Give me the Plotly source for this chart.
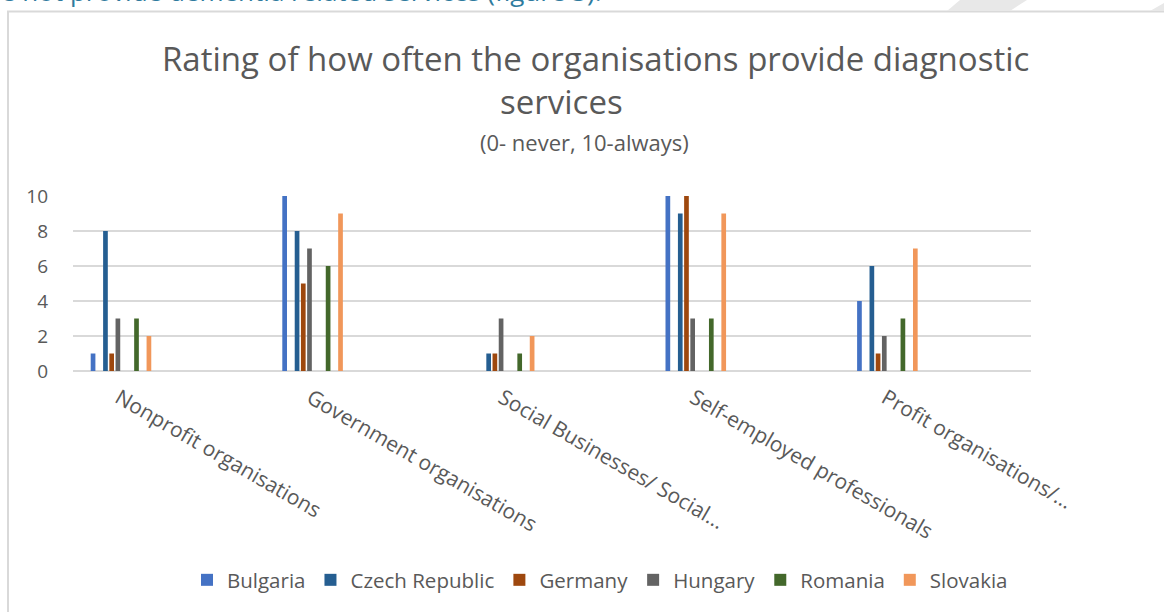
import plotly.graph_objects as go

# Organisation types (x categories) and countries (series)
categories = [
    "Nonprofit organisations",
    "Government organisations",
    "Social Businesses/ Social...",
    "Self-employed professionals",
    "Profit organisations/...",
]
countries = ["Bulgaria", "Czech Republic", "Germany", "Hungary", "Romania", "Slovakia"]

bulgaria = [1, 10, 0, 10, 4]
czech_republic = [8, 8, 1, 9, 6]
germany = [1, 5, 1, 10, 1]
hungary = [3, 7, 3, 3, 2]
romania = [3, 6, 1, 3, 3]
slovakia = [2, 9, 2, 9, 7]

y_ticks = [0, 2, 4, 6, 8, 10]

series_values = [bulgaria, czech_republic, germany, hungary, romania, slovakia]

# Styling: colour and slot within the category band for each series
colors = ["#4472C4", "#255E91", "#9E480E", "#636363", "#43682B", "#F1975A"]
slots = [0, 2, 3, 4, 7, 9]
SLOT_STEP = 0.0324
FIRST_OFFSET = -0.4076
BAR_WIDTH = 0.0245

TEXT = "#595959"
GRID = "#D9D9D9"
FONT = "Open Sans"

fig = go.Figure()
for name, vals, col, slot in zip(countries, series_values, colors, slots):
    fig.add_trace(go.Bar(
        name=name,
        x=categories,
        y=vals,
        marker=dict(color=col, line=dict(width=0)),
        width=BAR_WIDTH,
        offset=FIRST_OFFSET + slot * SLOT_STEP,
    ))

# plot area geometry in pixels (for paper-referenced decorations)
L, R, T, B = 73, 133, 196, 241
W, H = 1164, 612
PW, PH = W - L - R, H - T - B


def px(x):
    return (x - L) / PW


def py(y):
    return (H - B - y) / PH


shapes = [
    # chart frame
    dict(type="rect", xref="paper", yref="paper",
         x0=px(8), x1=px(1190), y0=py(11.5), y1=py(640),
         line=dict(color=GRID, width=2), fillcolor="rgba(0,0,0,0)", layer="below"),
    # page decoration at the top right
    dict(type="path", xref="paper", yref="paper",
         path=f"M{px(947)},{py(11)} L{px(960)},{py(0)} L{px(1027)},{py(0)} L{px(1010)},{py(11)} Z",
         fillcolor="#E8E8E8", line=dict(width=0)),
    dict(type="path", xref="paper", yref="paper",
         path=f"M{px(1150)},{py(11)} L{px(1164)},{py(3)} L{px(1164)},{py(11)} Z",
         fillcolor="#E8E8E8", line=dict(width=0)),
]

title_text = ("Rating of how often the organisations provide diagnostic<br>"
              "services" + "\u00a0" * 8)

annotations = [
    dict(text="e not provide dementia related services (figure 3).",
         xref="paper", yref="paper", x=px(-1), y=py(11), xanchor="left", yanchor="bottom",
         showarrow=False, font=dict(family=FONT, size=26, color="#2F7B9E")),
    dict(text=title_text,
         xref="paper", yref="paper", x=px(595), y=py(80), xanchor="center", yanchor="middle",
         align="center", showarrow=False, font=dict(family=FONT, size=33, color=TEXT)),
    dict(text="(0- never, 10-always)",
         xref="paper", yref="paper", x=px(584), y=py(142), xanchor="center", yanchor="middle",
         showarrow=False, font=dict(family=FONT, size=22, color=TEXT)),
]

fig.update_layout(
    width=W, height=H,
    margin=dict(l=L, r=R, t=T, b=B, autoexpand=False),
    paper_bgcolor="white", plot_bgcolor="white",
    barmode="overlay",
    font=dict(family=FONT, color=TEXT),
    shapes=shapes,
    annotations=annotations,
    legend=dict(
        orientation="h", x=px(600), xanchor="center", y=py(580), yanchor="middle",
        font=dict(family=FONT, size=20.5, color=TEXT),
        traceorder="normal", itemwidth=30,
    ),
    showlegend=True,
)

fig.update_xaxes(
    type="category", range=[-0.5, 4.5],
    showgrid=False, showline=False, zeroline=False,
    tickangle=30, ticklabelshift=-50, ticklabelstandoff=10,
    tickfont=dict(family=FONT, size=21, color=TEXT),
)
fig.update_yaxes(
    range=[0, 10], tickvals=y_ticks,
    showgrid=True, gridcolor=GRID, gridwidth=1.5,
    zeroline=True, zerolinecolor=GRID, zerolinewidth=1.5,
    showline=False, ticks="", ticklabelstandoff=24,
    tickfont=dict(family=FONT, size=19, color=TEXT),
)

fig.write_html("out.html")
